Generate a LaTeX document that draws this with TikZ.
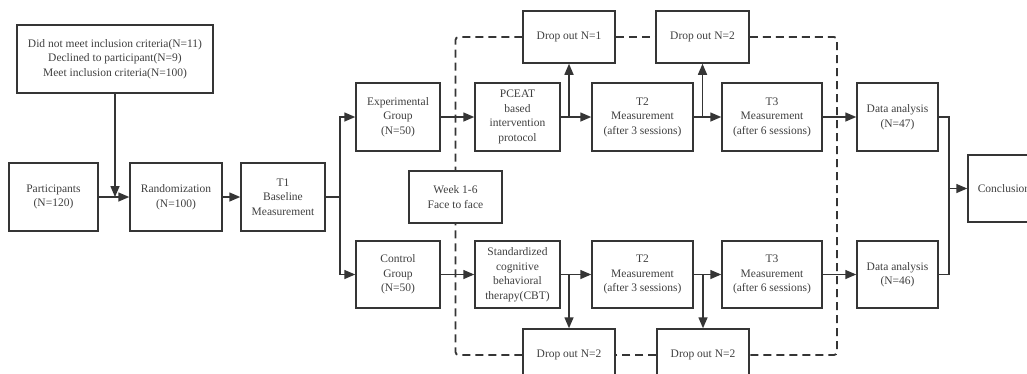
\documentclass[tikz,border=0pt]{standalone}
\usepackage{fontspec}
\setmainfont{Liberation Serif}
\usetikzlibrary{arrows.meta,calc}
\definecolor{ln}{HTML}{353535}
\definecolor{tx}{HTML}{404040}
\begin{document}
\begin{tikzpicture}[x=1pt,y=-1pt,
  box/.style={draw=ln,line width=1.5pt,fill=white,text=tx,align=center,inner sep=0pt,
    font=\fontsize{11.5}{14.5}\selectfont},
  arr/.style={draw=ln,line width=1.5pt,-{Triangle[length=11pt,width=9pt]}},
  ln/.style={draw=ln,line width=1.5pt},
  dsh/.style={draw=ln,line width=1.8pt,dash pattern=on 8pt off 5pt,rounded corners=3pt}]
\clip (0,0) rectangle (1027,373);
\fill[white] (0,0) rectangle (1027,373);
% nodes
\node[box,minimum width=196pt,minimum height=68pt] (top) at (115,59) {Did not meet inclusion criteria(N=11)\\Declined to participant(N=9)\\Meet inclusion criteria(N=100)};
\node[box,minimum width=89pt,minimum height=68pt] (part) at (53.5,197) {Participants\\(N=120)};
\node[box,minimum width=92pt,minimum height=68pt] (rand) at (176,197) {Randomization\\(N=100)};
\node[box,minimum width=84pt,minimum height=68pt] (t1) at (283,197) {T1\\Baseline\\Measurement};
\node[box,minimum width=84pt,minimum height=68pt] (exp) at (398,117) {Experimental\\Group\\(N=50)};
\node[box,minimum width=84pt,minimum height=67pt] (ctrl) at (398,274.5) {Control\\Group\\(N=50)};
\node[box,minimum width=85pt,minimum height=68pt] (pceat) at (517.5,117) {PCEAT\\based\\intervention\\protocol};
\node[box,minimum width=85pt,minimum height=67pt] (cbt) at (517.5,274.5) {Standardized\\cognitive\\behavioral\\therapy(CBT)};
\node[box,minimum width=101pt,minimum height=68pt] (t2a) at (642.5,117) {T2\\Measurement\\(after 3 sessions)};
\node[box,minimum width=101pt,minimum height=67pt] (t2b) at (642.5,274.5) {T2\\Measurement\\(after 3 sessions)};
\node[box,minimum width=100pt,minimum height=68pt] (t3a) at (772,117) {T3\\Measurement\\(after 6 sessions)};
\node[box,minimum width=100pt,minimum height=67pt] (t3b) at (772,274.5) {T3\\Measurement\\(after 6 sessions)};
\node[box,minimum width=81pt,minimum height=68pt] (daa) at (897.5,117) {Data analysis\\(N=47)};
\node[box,minimum width=81pt,minimum height=67pt] (dab) at (897.5,274.5) {Data analysis\\(N=46)};
\node[box,minimum width=72pt,minimum height=67pt] (concl) at (1004,188.5) {Conclusion};
\node[box,minimum width=92pt,minimum height=52pt] (do1) at (569,37) {Drop out N=1};
\node[box,minimum width=93pt,minimum height=52pt] (do2) at (702.5,37) {Drop out N=2};
\node[box,minimum width=92pt,minimum height=52pt] (do3) at (569,355) {Drop out N=2};
\node[box,minimum width=92pt,minimum height=52pt] (do4) at (703,355) {Drop out N=2};
\node[box,minimum width=93pt,minimum height=52pt] (week) at (455.5,197) {Week 1-6\\Face to face};
% dashed frame
\draw[dsh] (do1.west) -| (week.north);
\draw[dsh] (do1.east) -- (do2.west);
\draw[dsh] (do2.east) -| (837,355) -- (do4.east);
\draw[dsh] (do4.west) -- (do3.east);
\draw[dsh] (do3.west) -| (week.south);
% connectors
\coordinate (j0) at (top.south |- part.east);
\draw[arr] (top.south) -- (j0);
\draw[arr] (part.east) -- (rand.west);
\draw[arr] (rand.east) -- (t1.west);
\coordinate (j1) at (340,197);
\draw[ln] (t1.east) -- (j1);
\draw[arr] (j1) |- (exp.west);
\draw[arr] (j1) |- (ctrl.west);
\draw[arr] (exp.east) -- (pceat.west);
\draw[arr] (ctrl.east) -- (cbt.west);
\draw[arr] (pceat.east) -- (t2a.west);
\draw[arr] (cbt.east) -- (t2b.west);
\draw[arr] (t2a.east) -- (t3a.west);
\draw[arr] (t2b.east) -- (t3b.west);
\draw[arr] (t3a.east) -- (daa.west);
\draw[arr] (t3b.east) -- (dab.west);
\draw[arr] (do1.south |- pceat.east) -- (do1.south);
\draw[arr] (do2.south |- t2a.east) -- (do2.south);
\draw[arr] (do3.north |- cbt.east) -- (do3.north);
\draw[arr] (do4.north |- t2b.east) -- (do4.north);
\coordinate (j2) at (949,188.5);
\draw[ln] (daa.east) -| (j2);
\draw[ln] (dab.east) -| (j2);
\draw[arr] (j2) -- (concl.west);
\end{tikzpicture}
\end{document}
